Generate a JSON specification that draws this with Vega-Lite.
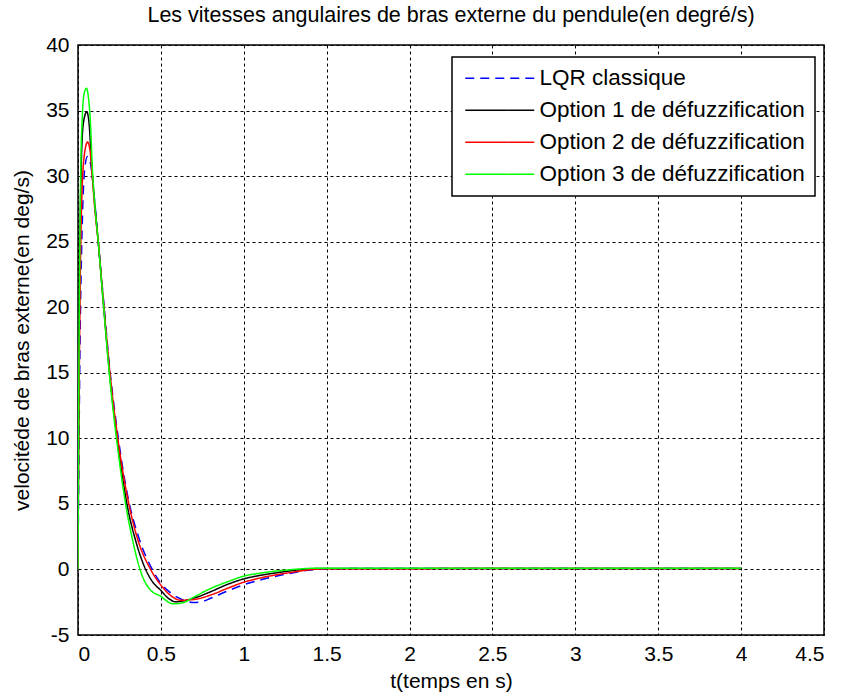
{
  "$schema": "https://vega.github.io/schema/vega-lite/v6.json",
  "autosize": {"type": "none"},
  "width": 746,
  "height": 590,
  "padding": {"left": 78, "top": 45, "right": 18, "bottom": 60},
  "background": "white",
  "title": {
    "text": "Les vitesses angulaires de bras externe du pendule(en degré/s)",
    "fontSize": 21.5,
    "fontWeight": "normal",
    "font": "Liberation Sans",
    "color": "black",
    "offset": 8
  },
  "data": {
    "values": [
      {"s": "LQR classique", "t": 0, "v": 0},
      {"s": "LQR classique", "t": 0.005, "v": 8},
      {"s": "LQR classique", "t": 0.012, "v": 17},
      {"s": "LQR classique", "t": 0.025, "v": 26},
      {"s": "LQR classique", "t": 0.04, "v": 30.5},
      {"s": "LQR classique", "t": 0.057, "v": 31.5},
      {"s": "LQR classique", "t": 0.075, "v": 31},
      {"s": "LQR classique", "t": 0.09, "v": 29.5},
      {"s": "LQR classique", "t": 0.105, "v": 27.5},
      {"s": "LQR classique", "t": 0.122, "v": 25},
      {"s": "LQR classique", "t": 0.153, "v": 20.7},
      {"s": "LQR classique", "t": 0.19, "v": 15.5},
      {"s": "LQR classique", "t": 0.24, "v": 10.3},
      {"s": "LQR classique", "t": 0.3, "v": 5.6},
      {"s": "LQR classique", "t": 0.37, "v": 2.3},
      {"s": "LQR classique", "t": 0.448, "v": 0},
      {"s": "LQR classique", "t": 0.5, "v": -1.07},
      {"s": "LQR classique", "t": 0.56, "v": -1.8},
      {"s": "LQR classique", "t": 0.62, "v": -2.25},
      {"s": "LQR classique", "t": 0.7, "v": -2.53},
      {"s": "LQR classique", "t": 0.75, "v": -2.45},
      {"s": "LQR classique", "t": 0.8, "v": -2.2},
      {"s": "LQR classique", "t": 0.9, "v": -1.65},
      {"s": "LQR classique", "t": 1.0, "v": -1.17},
      {"s": "LQR classique", "t": 1.1, "v": -0.8},
      {"s": "LQR classique", "t": 1.2, "v": -0.5},
      {"s": "LQR classique", "t": 1.3, "v": -0.25},
      {"s": "LQR classique", "t": 1.4, "v": -0.05},
      {"s": "LQR classique", "t": 1.5, "v": 0.05},
      {"s": "LQR classique", "t": 2, "v": 0.08},
      {"s": "LQR classique", "t": 4, "v": 0.08},

      {"s": "Option 1 de défuzzification", "t": 0, "v": 0},
      {"s": "Option 1 de défuzzification", "t": 0.004, "v": 11},
      {"s": "Option 1 de défuzzification", "t": 0.008, "v": 19},
      {"s": "Option 1 de défuzzification", "t": 0.018, "v": 30},
      {"s": "Option 1 de défuzzification", "t": 0.032, "v": 34},
      {"s": "Option 1 de défuzzification", "t": 0.053, "v": 34.9},
      {"s": "Option 1 de défuzzification", "t": 0.067, "v": 34},
      {"s": "Option 1 de défuzzification", "t": 0.08, "v": 31.3},
      {"s": "Option 1 de défuzzification", "t": 0.1, "v": 28},
      {"s": "Option 1 de défuzzification", "t": 0.122, "v": 25},
      {"s": "Option 1 de défuzzification", "t": 0.153, "v": 20.3},
      {"s": "Option 1 de défuzzification", "t": 0.19, "v": 15},
      {"s": "Option 1 de défuzzification", "t": 0.24, "v": 9.7},
      {"s": "Option 1 de défuzzification", "t": 0.295, "v": 5},
      {"s": "Option 1 de défuzzification", "t": 0.35, "v": 2.1},
      {"s": "Option 1 de défuzzification", "t": 0.408, "v": 0},
      {"s": "Option 1 de défuzzification", "t": 0.45, "v": -0.95},
      {"s": "Option 1 de défuzzification", "t": 0.5, "v": -1.6},
      {"s": "Option 1 de défuzzification", "t": 0.545, "v": -2.2},
      {"s": "Option 1 de défuzzification", "t": 0.59, "v": -2.47},
      {"s": "Option 1 de défuzzification", "t": 0.66, "v": -2.33},
      {"s": "Option 1 de défuzzification", "t": 0.72, "v": -2.1},
      {"s": "Option 1 de défuzzification", "t": 0.8, "v": -1.7},
      {"s": "Option 1 de défuzzification", "t": 0.9, "v": -1.15},
      {"s": "Option 1 de défuzzification", "t": 1.0, "v": -0.72},
      {"s": "Option 1 de défuzzification", "t": 1.1, "v": -0.45},
      {"s": "Option 1 de défuzzification", "t": 1.2, "v": -0.25},
      {"s": "Option 1 de défuzzification", "t": 1.3, "v": -0.08},
      {"s": "Option 1 de défuzzification", "t": 1.4, "v": 0.05},
      {"s": "Option 1 de défuzzification", "t": 1.5, "v": 0.08},
      {"s": "Option 1 de défuzzification", "t": 4, "v": 0.08},

      {"s": "Option 2 de défuzzification", "t": 0, "v": 0},
      {"s": "Option 2 de défuzzification", "t": 0.004, "v": 9},
      {"s": "Option 2 de défuzzification", "t": 0.01, "v": 18},
      {"s": "Option 2 de défuzzification", "t": 0.02, "v": 27},
      {"s": "Option 2 de défuzzification", "t": 0.037, "v": 31.5},
      {"s": "Option 2 de défuzzification", "t": 0.058, "v": 32.6},
      {"s": "Option 2 de défuzzification", "t": 0.072, "v": 32},
      {"s": "Option 2 de défuzzification", "t": 0.086, "v": 30},
      {"s": "Option 2 de défuzzification", "t": 0.1, "v": 27.7},
      {"s": "Option 2 de défuzzification", "t": 0.122, "v": 25},
      {"s": "Option 2 de défuzzification", "t": 0.153, "v": 20.5},
      {"s": "Option 2 de défuzzification", "t": 0.19, "v": 15.3},
      {"s": "Option 2 de défuzzification", "t": 0.24, "v": 10},
      {"s": "Option 2 de défuzzification", "t": 0.3, "v": 5.4},
      {"s": "Option 2 de défuzzification", "t": 0.36, "v": 2.3},
      {"s": "Option 2 de défuzzification", "t": 0.438, "v": 0},
      {"s": "Option 2 de défuzzification", "t": 0.5, "v": -1.2},
      {"s": "Option 2 de défuzzification", "t": 0.56, "v": -2.0},
      {"s": "Option 2 de défuzzification", "t": 0.62, "v": -2.35},
      {"s": "Option 2 de défuzzification", "t": 0.66, "v": -2.33},
      {"s": "Option 2 de défuzzification", "t": 0.72, "v": -2.25},
      {"s": "Option 2 de défuzzification", "t": 0.8, "v": -1.95},
      {"s": "Option 2 de défuzzification", "t": 0.9, "v": -1.45},
      {"s": "Option 2 de défuzzification", "t": 1.0, "v": -0.97},
      {"s": "Option 2 de défuzzification", "t": 1.1, "v": -0.65},
      {"s": "Option 2 de défuzzification", "t": 1.2, "v": -0.4},
      {"s": "Option 2 de défuzzification", "t": 1.3, "v": -0.2},
      {"s": "Option 2 de défuzzification", "t": 1.4, "v": -0.02},
      {"s": "Option 2 de défuzzification", "t": 1.5, "v": 0.05},
      {"s": "Option 2 de défuzzification", "t": 4, "v": 0.08},

      {"s": "Option 3 de défuzzification", "t": 0, "v": 0},
      {"s": "Option 3 de défuzzification", "t": 0.004, "v": 12},
      {"s": "Option 3 de défuzzification", "t": 0.008, "v": 20},
      {"s": "Option 3 de défuzzification", "t": 0.016, "v": 30},
      {"s": "Option 3 de défuzzification", "t": 0.026, "v": 34.5},
      {"s": "Option 3 de défuzzification", "t": 0.037, "v": 36.3},
      {"s": "Option 3 de défuzzification", "t": 0.051, "v": 36.7},
      {"s": "Option 3 de défuzzification", "t": 0.063, "v": 36},
      {"s": "Option 3 de défuzzification", "t": 0.073, "v": 34.5},
      {"s": "Option 3 de défuzzification", "t": 0.087, "v": 30.5},
      {"s": "Option 3 de défuzzification", "t": 0.1, "v": 28},
      {"s": "Option 3 de défuzzification", "t": 0.122, "v": 25},
      {"s": "Option 3 de défuzzification", "t": 0.153, "v": 20.3},
      {"s": "Option 3 de défuzzification", "t": 0.19, "v": 14.8},
      {"s": "Option 3 de défuzzification", "t": 0.24, "v": 9.2},
      {"s": "Option 3 de défuzzification", "t": 0.287, "v": 5},
      {"s": "Option 3 de défuzzification", "t": 0.33, "v": 2.2},
      {"s": "Option 3 de défuzzification", "t": 0.374, "v": 0},
      {"s": "Option 3 de défuzzification", "t": 0.4, "v": -0.85},
      {"s": "Option 3 de défuzzification", "t": 0.44, "v": -1.6},
      {"s": "Option 3 de défuzzification", "t": 0.5, "v": -2.05},
      {"s": "Option 3 de défuzzification", "t": 0.54, "v": -2.45},
      {"s": "Option 3 de défuzzification", "t": 0.57, "v": -2.62},
      {"s": "Option 3 de défuzzification", "t": 0.63, "v": -2.55},
      {"s": "Option 3 de défuzzification", "t": 0.7, "v": -2.1},
      {"s": "Option 3 de défuzzification", "t": 0.8, "v": -1.45},
      {"s": "Option 3 de défuzzification", "t": 0.9, "v": -0.95},
      {"s": "Option 3 de défuzzification", "t": 1.0, "v": -0.51},
      {"s": "Option 3 de défuzzification", "t": 1.1, "v": -0.28},
      {"s": "Option 3 de défuzzification", "t": 1.2, "v": -0.12},
      {"s": "Option 3 de défuzzification", "t": 1.3, "v": 0},
      {"s": "Option 3 de défuzzification", "t": 1.45, "v": 0.1},
      {"s": "Option 3 de défuzzification", "t": 4, "v": 0.1}
    ]
  },
  "mark": {"type": "line", "strokeWidth": 1.5, "interpolate": "monotone", "clip": true},
  "encoding": {
    "x": {
      "field": "t",
      "type": "quantitative",
      "scale": {"domain": [0, 4.5], "nice": false, "zero": false},
      "axis": {
        "title": "t(temps en s)",
        "values": [0, 0.5, 1, 1.5, 2, 2.5, 3, 3.5, 4, 4.5],
        "labelExpr": "'' + datum.value",
        "labelPadding": 8,
        "titlePadding": 6
      }
    },
    "y": {
      "field": "v",
      "type": "quantitative",
      "scale": {"domain": [-5, 40], "nice": false, "zero": false},
      "axis": {
        "title": "velocitéde de bras externe(en deg/s)",
        "values": [-5, 0, 5, 10, 15, 20, 25, 30, 35, 40],
        "labelExpr": "'' + datum.value",
        "labelPadding": 9,
        "titlePadding": 13
      }
    },
    "color": {
      "field": "s",
      "type": "nominal",
      "scale": {
        "domain": ["LQR classique", "Option 1 de défuzzification", "Option 2 de défuzzification", "Option 3 de défuzzification"],
        "range": ["#0000ff", "#000000", "#ff0000", "#00ff00"]
      },
      "legend": {"title": null}
    },
    "strokeDash": {
      "field": "s",
      "type": "nominal",
      "scale": {
        "domain": ["LQR classique", "Option 1 de défuzzification", "Option 2 de défuzzification", "Option 3 de défuzzification"],
        "range": [[9, 6], [1, 0], [1, 0], [1, 0]]
      },
      "legend": {"title": null}
    }
  },
  "config": {
    "font": "Liberation Sans",
    "view": {"stroke": "black", "strokeWidth": 1.5},
    "axis": {
      "domain": false,
      "ticks": false,
      "grid": true,
      "gridColor": "black",
      "gridOpacity": 1,
      "gridWidth": 1,
      "gridDash": [3, 3],
      "labelFont": "Liberation Sans",
      "labelFontSize": 21,
      "labelColor": "black",
      "titleFont": "Liberation Sans",
      "titleFontSize": 21,
      "titleFontWeight": "normal",
      "titleColor": "black"
    },
    "legend": {
      "orient": "none",
      "legendX": 374,
      "legendY": 12,
      "fillColor": "white",
      "strokeColor": "black",
      "strokeWidth": 1.5,
      "cornerRadius": 0,
      "padding": 10,
      "symbolType": "M-0.84,0H6.42",
      "symbolSize": 361,
      "symbolStrokeWidth": 1.5,
      "symbolFillColor": "transparent",
      "labelFont": "Liberation Sans",
      "labelFontSize": 22.5,
      "labelColor": "black",
      "labelOffset": 55,
      "labelLimit": 400,
      "rowPadding": 9
    }
  }
}
